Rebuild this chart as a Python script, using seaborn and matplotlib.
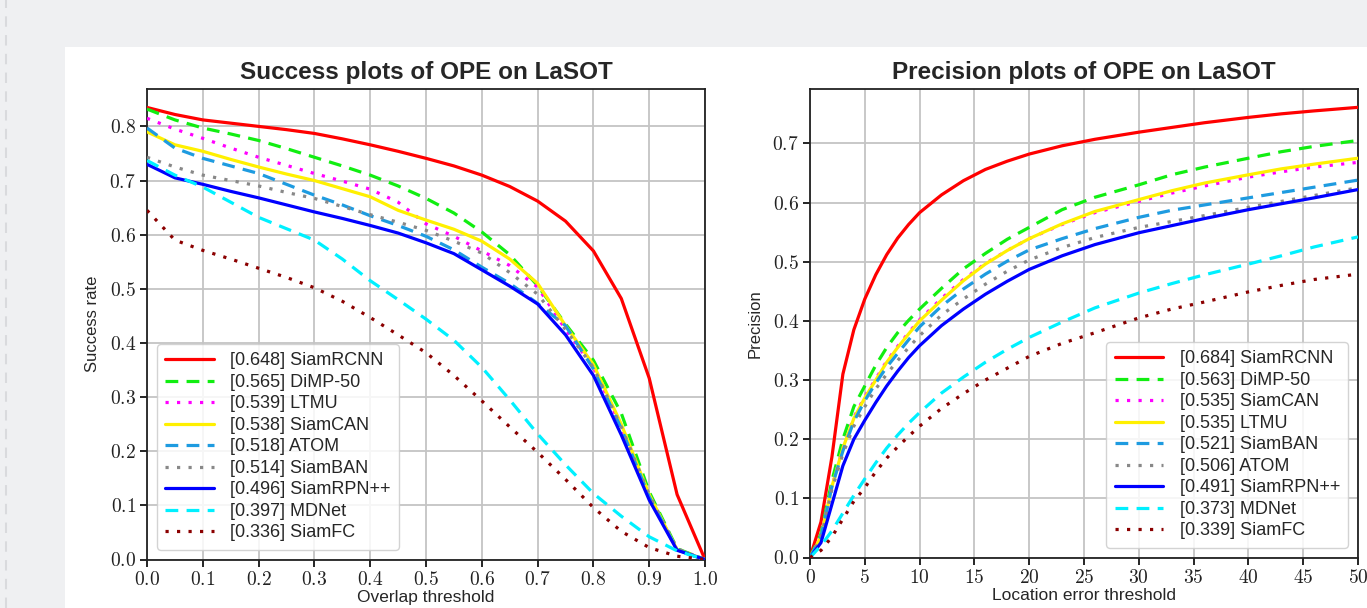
import pandas as pd
import seaborn as sns
import matplotlib.pyplot as plt
from matplotlib.ticker import FuncFormatter, MultipleLocator
from matplotlib.patches import Rectangle
from matplotlib.lines import Line2D

# success plot (overlap threshold)
overlap = [0.0, 0.05, 0.1, 0.15, 0.2, 0.25, 0.3, 0.35, 0.4, 0.45, 0.5,
           0.55, 0.6, 0.65, 0.7, 0.75, 0.8, 0.85, 0.9, 0.95, 1.0]
succ_labels = ['[0.648] SiamRCNN', '[0.565] DiMP-50', '[0.539] LTMU', '[0.538] SiamCAN',
               '[0.518] ATOM', '[0.514] SiamBAN', '[0.496] SiamRPN++', '[0.397] MDNet',
               '[0.336] SiamFC']
succ_siamrcnn = [0.835, 0.822, 0.812, 0.806, 0.800, 0.794, 0.787, 0.777, 0.766, 0.754, 0.741,
                 0.727, 0.710, 0.689, 0.662, 0.625, 0.570, 0.482, 0.335, 0.120, 0.0]
succ_dimp = [0.832, 0.812, 0.797, 0.786, 0.774, 0.759, 0.743, 0.727, 0.710, 0.690, 0.667,
             0.640, 0.605, 0.563, 0.506, 0.435, 0.368, 0.270, 0.125, 0.020, 0.0]
succ_ltmu = [0.815, 0.795, 0.778, 0.760, 0.743, 0.728, 0.713, 0.699, 0.684, 0.660, 0.620,
             0.597, 0.570, 0.543, 0.503, 0.425, 0.355, 0.245, 0.117, 0.018, 0.0]
succ_siamcan = [0.790, 0.766, 0.754, 0.739, 0.725, 0.712, 0.700, 0.685, 0.670, 0.645, 0.627,
                0.610, 0.588, 0.555, 0.510, 0.432, 0.360, 0.250, 0.120, 0.018, 0.0]
succ_atom = [0.797, 0.760, 0.741, 0.727, 0.713, 0.693, 0.673, 0.655, 0.635, 0.617, 0.597,
             0.572, 0.540, 0.510, 0.473, 0.432, 0.352, 0.242, 0.116, 0.018, 0.0]
succ_siamban = [0.743, 0.725, 0.710, 0.700, 0.690, 0.678, 0.667, 0.652, 0.637, 0.623, 0.608,
                0.588, 0.566, 0.530, 0.490, 0.425, 0.355, 0.245, 0.120, 0.020, 0.0]
succ_siamrpn = [0.730, 0.705, 0.693, 0.680, 0.668, 0.655, 0.642, 0.630, 0.617, 0.603, 0.585,
                0.565, 0.535, 0.505, 0.472, 0.415, 0.340, 0.230, 0.110, 0.017, 0.0]
succ_mdnet = [0.737, 0.710, 0.688, 0.660, 0.632, 0.611, 0.590, 0.555, 0.515, 0.480, 0.444,
              0.405, 0.355, 0.295, 0.232, 0.175, 0.122, 0.080, 0.042, 0.016, 0.0]
succ_siamfc = [0.645, 0.590, 0.571, 0.555, 0.538, 0.521, 0.502, 0.477, 0.447, 0.415, 0.382,
               0.340, 0.293, 0.245, 0.198, 0.148, 0.096, 0.052, 0.022, 0.006, 0.0]

# precision plot (location error threshold)
location = [0, 1, 2, 3, 4, 5, 6, 7, 8, 9, 10, 12, 14, 16, 18, 20, 23, 26, 30, 33, 36, 40, 43, 46, 50]
prec_labels = ['[0.684] SiamRCNN', '[0.563] DiMP-50', '[0.535] SiamCAN', '[0.535] LTMU',
               '[0.521] SiamBAN', '[0.506] ATOM', '[0.491] SiamRPN++', '[0.373] MDNet',
               '[0.339] SiamFC']
prec_siamrcnn = [0.0, 0.060, 0.170, 0.310, 0.385, 0.437, 0.478, 0.512, 0.540, 0.563, 0.583, 0.613,
                 0.637, 0.656, 0.670, 0.682, 0.696, 0.707, 0.719, 0.727, 0.735, 0.744, 0.750,
                 0.755, 0.761]
prec_dimp = [0.0, 0.040, 0.130, 0.200, 0.255, 0.290, 0.325, 0.355, 0.380, 0.401, 0.420, 0.455,
             0.488, 0.514, 0.538, 0.558, 0.588, 0.609, 0.630, 0.647, 0.660, 0.675, 0.686,
             0.695, 0.705]
prec_siamcan = [0.0, 0.035, 0.120, 0.185, 0.237, 0.272, 0.302, 0.332, 0.357, 0.380, 0.402, 0.438,
                0.470, 0.497, 0.519, 0.539, 0.563, 0.583, 0.602, 0.616, 0.628, 0.643, 0.652,
                0.660, 0.668]
prec_ltmu = [0.0, 0.035, 0.120, 0.185, 0.235, 0.270, 0.300, 0.330, 0.355, 0.378, 0.400, 0.435,
             0.468, 0.496, 0.519, 0.539, 0.564, 0.585, 0.605, 0.620, 0.633, 0.647, 0.657,
             0.665, 0.675]
prec_siamban = [0.0, 0.035, 0.120, 0.180, 0.230, 0.265, 0.295, 0.322, 0.345, 0.368, 0.390, 0.425,
                0.454, 0.479, 0.501, 0.520, 0.539, 0.556, 0.575, 0.587, 0.596, 0.608, 0.617,
                0.626, 0.638]
prec_atom = [0.0, 0.033, 0.115, 0.175, 0.222, 0.255, 0.285, 0.310, 0.333, 0.355, 0.375, 0.410,
             0.437, 0.462, 0.484, 0.503, 0.524, 0.541, 0.558, 0.568, 0.578, 0.592, 0.602,
             0.612, 0.625]
prec_siamrpn = [0.0, 0.025, 0.090, 0.155, 0.200, 0.232, 0.262, 0.290, 0.315, 0.338, 0.358, 0.392,
                0.420, 0.445, 0.467, 0.487, 0.510, 0.529, 0.549, 0.561, 0.573, 0.588, 0.598,
                0.608, 0.622]
prec_mdnet = [0.0, 0.020, 0.045, 0.075, 0.105, 0.133, 0.160, 0.185, 0.207, 0.227, 0.245, 0.278,
              0.305, 0.330, 0.352, 0.372, 0.398, 0.422, 0.447, 0.463, 0.478, 0.496, 0.510,
              0.525, 0.542]
prec_siamfc = [0.0, 0.012, 0.035, 0.065, 0.095, 0.118, 0.145, 0.168, 0.187, 0.205, 0.222, 0.252,
               0.277, 0.300, 0.320, 0.340, 0.362, 0.380, 0.405, 0.420, 0.432, 0.449, 0.460,
               0.470, 0.479]

succ_series = [succ_siamrcnn, succ_dimp, succ_ltmu, succ_siamcan, succ_atom,
               succ_siamban, succ_siamrpn, succ_mdnet, succ_siamfc]
prec_series = [prec_siamrcnn, prec_dimp, prec_siamcan, prec_ltmu, prec_siamban,
               prec_atom, prec_siamrpn, prec_mdnet, prec_siamfc]

# colour / line style by rank
colors = ['#ff0000', '#11ee11', '#ff00ff', '#fff000', '#1e9be0',
          '#888888', '#0000ff', '#00f0ff', '#8b0000']
dash = (0, (4, 2.6))
dot = (0, (1, 2.6))
styles = ['-', dash, dot, '-', dash, dot, '-', dash, dot]

sns.set_theme(style='ticks')
plt.rcParams['font.family'] = ['Liberation Sans', 'DejaVu Sans']
plt.rcParams['mathtext.fontset'] = 'cm'

fig = plt.figure(figsize=(13.67, 6.08), dpi=100)
fig.patch.set_facecolor('#eff0f2')
fig.add_artist(Rectangle((65 / 1367, 0), 1, (608 - 47) / 608, transform=fig.transFigure,
                         facecolor='white', edgecolor='none', zorder=-10))
fig.add_artist(Line2D([6 / 1367, 6 / 1367], [0, 1], transform=fig.transFigure,
                      color='#d9dadd', lw=1.5, ls=(0, (5, 4)), zorder=-9))

ax1 = fig.add_axes([147 / 1367, (608 - 559.5) / 608, 558 / 1367, 471 / 608])
ax2 = fig.add_axes([810 / 1367, (608 - 557.5) / 608, 548 / 1367, 468.5 / 608])


def draw(ax, x, series, labels):
    for vals, lab, c, ls in zip(series, labels, colors, styles):
        df = pd.DataFrame({'x': x, 'y': vals})
        sns.lineplot(data=df, x='x', y='y', ax=ax, color=c, linestyle=ls,
                     linewidth=2.3, label=lab, zorder=3)


draw(ax1, overlap, succ_series, succ_labels)
draw(ax2, location, prec_series, prec_labels)

fmt1 = FuncFormatter(lambda v, p: r'$%.1f$' % v)
fmt0 = FuncFormatter(lambda v, p: r'$%d$' % round(v))

ax1.set_xlim(0, 1.0)
ax1.set_ylim(0, 0.87)
ax1.xaxis.set_major_locator(MultipleLocator(0.1))
ax1.yaxis.set_major_locator(MultipleLocator(0.1))
ax1.xaxis.set_major_formatter(fmt1)
ax1.yaxis.set_major_formatter(fmt1)

ax2.set_xlim(0, 50)
ax2.set_ylim(0, 0.792)
ax2.xaxis.set_major_locator(MultipleLocator(5))
ax2.yaxis.set_major_locator(MultipleLocator(0.1))
ax2.xaxis.set_major_formatter(fmt0)
ax2.yaxis.set_major_formatter(fmt1)

for ax, title, xl, yl in [(ax1, 'Success plots of OPE on LaSOT', 'Overlap threshold', 'Success rate'),
                          (ax2, 'Precision plots of OPE on LaSOT', 'Location error threshold', 'Precision')]:
    ax.set_title(title, fontsize=17.5, fontweight='bold', pad=7)
    ax.set_xlabel(xl, fontsize=12.5, labelpad=1)
    ax.set_ylabel(yl, fontsize=12, labelpad=7)
    ax.grid(True, color='#c4c4c4', linewidth=1.3, zorder=0)
    ax.tick_params(axis='both', direction='out', length=5, width=1.2, color='black',
                   labelsize=14, pad=3, labelcolor='#222222')
    for s in ax.spines.values():
        s.set_color('#222222')
        s.set_linewidth(1.3)
    ax.set_facecolor('white')

for ax, loc in [(ax1, 'lower left'), (ax2, 'lower right')]:
    leg = ax.legend(loc=loc, fontsize=13, handlelength=2.7, handletextpad=0.9,
                    labelspacing=0.25, borderaxespad=0.55, borderpad=0.45,
                    framealpha=0.85, fancybox=True)
    leg.get_frame().set_edgecolor('#cccccc')

fig.savefig('out.png', dpi=100, facecolor=fig.get_facecolor())
